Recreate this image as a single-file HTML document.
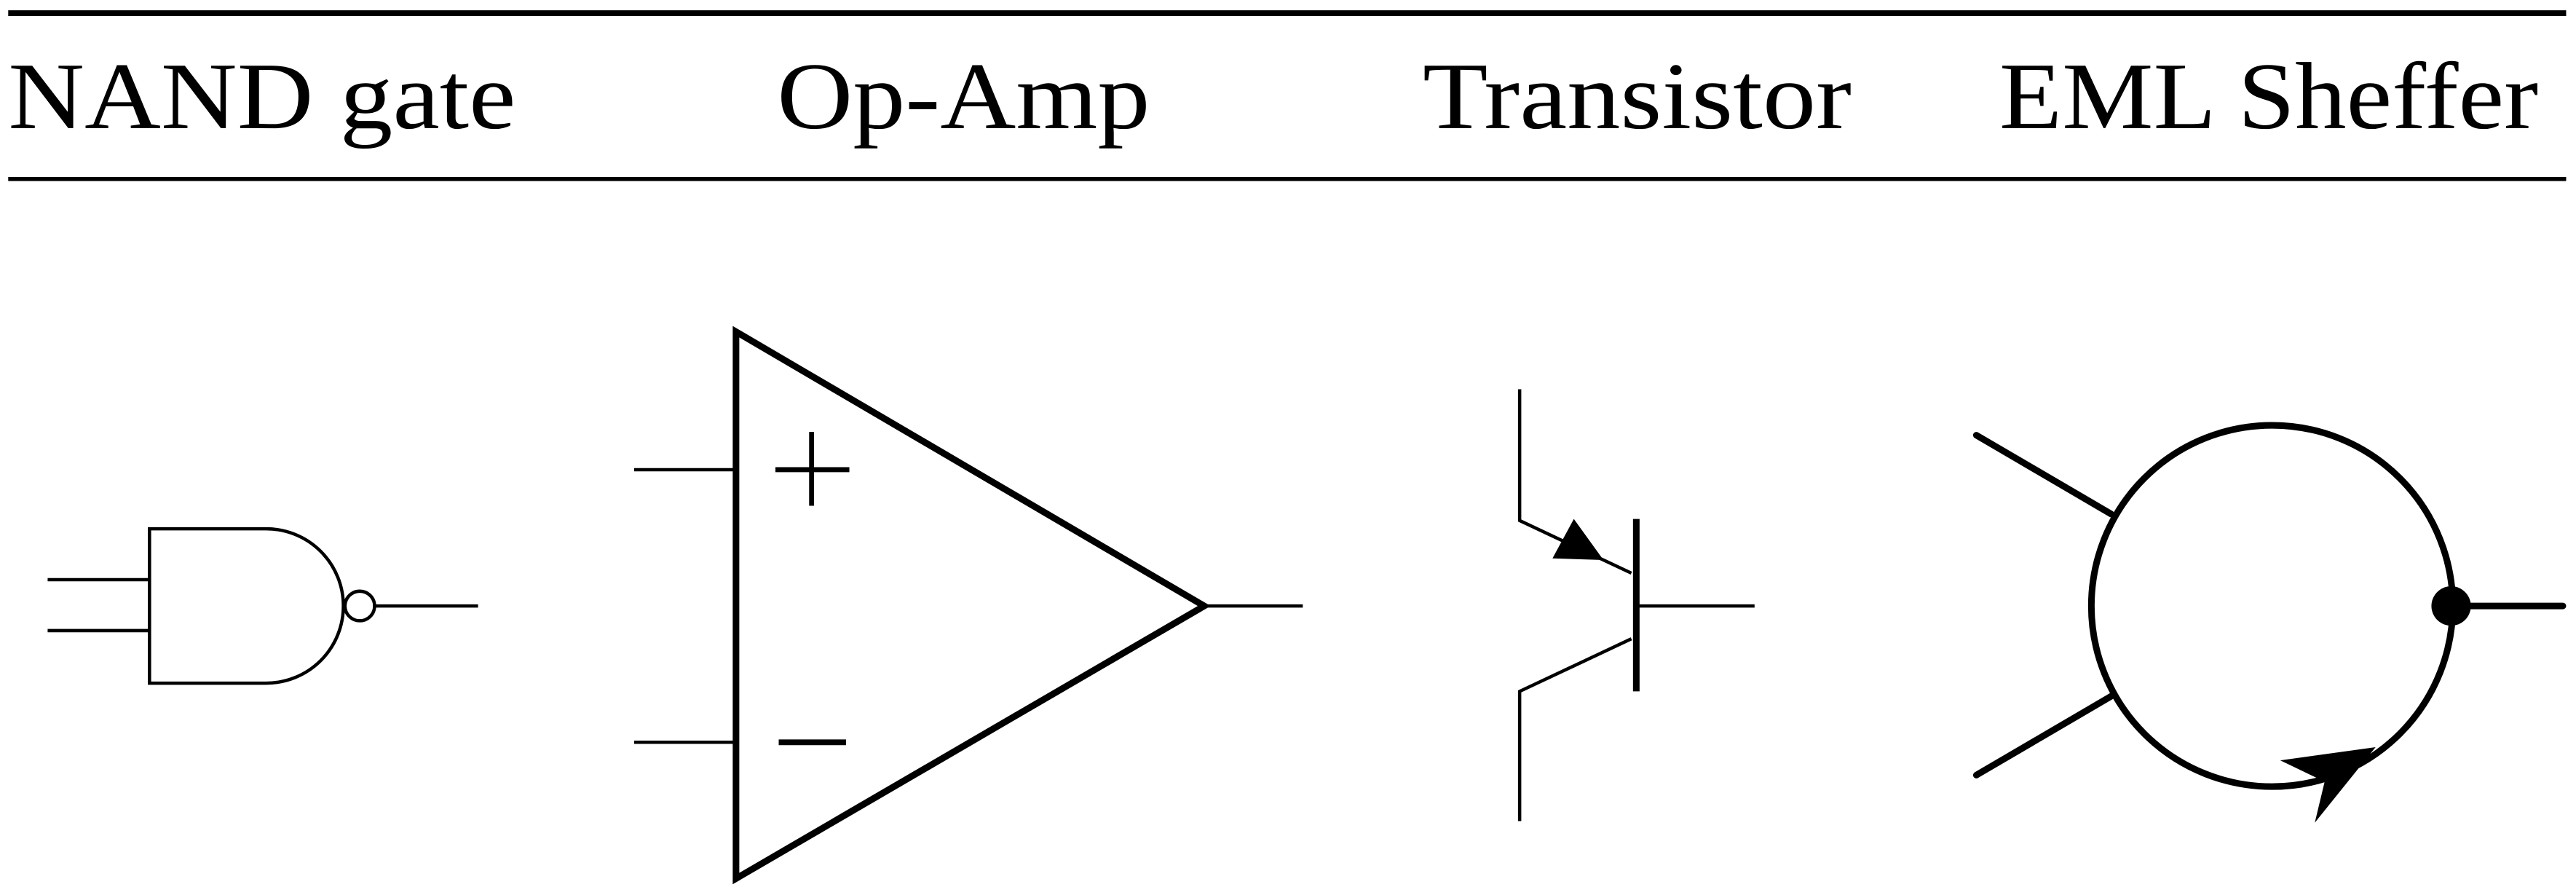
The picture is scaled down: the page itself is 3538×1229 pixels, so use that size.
<!DOCTYPE html>
<html><head><meta charset="utf-8"><style>
html,body{margin:0;padding:0;background:#fff;}
svg{display:block;}
text{font-family:"Liberation Serif",serif;font-size:58px;fill:#000;}
</style></head><body>
<svg width="3538" height="1229" viewBox="0 0 1568 545" preserveAspectRatio="none" xmlns="http://www.w3.org/2000/svg">
<line x1="5" y1="8" x2="1562" y2="8" stroke="#000" stroke-width="3.5"/>
<line x1="5" y1="109" x2="1562" y2="109" stroke="#000" stroke-width="2.5"/>
<text x="5" y="78" textLength="309" lengthAdjust="spacingAndGlyphs">NAND gate</text>
<text x="473" y="78" textLength="227" lengthAdjust="spacingAndGlyphs">Op-Amp</text>
<text x="866" y="78" textLength="261" lengthAdjust="spacingAndGlyphs">Transistor</text>
<text x="1217" y="78" textLength="328" lengthAdjust="spacingAndGlyphs">EML Sheffer</text>
<g fill="none" stroke="#000" stroke-width="2">
<line x1="29" y1="353" x2="91" y2="353"/>
<line x1="29" y1="384" x2="91" y2="384"/>
<path d="M91,322 H162 A47,47 0 0 1 162,416 H91 Z"/>
<circle cx="219" cy="369" r="9"/>
<line x1="228" y1="369" x2="291" y2="369"/>
</g>
<g fill="none" stroke="#000">
<path d="M448,202 L448,535 L733,369 Z" stroke-width="4" stroke-linejoin="miter"/>
<line x1="386" y1="286" x2="448" y2="286" stroke-width="2"/>
<line x1="386" y1="452" x2="448" y2="452" stroke-width="2"/>
<line x1="733" y1="369" x2="793" y2="369" stroke-width="2"/>
<line x1="472" y1="286" x2="517" y2="286" stroke-width="3"/>
<line x1="494" y1="263" x2="494" y2="308" stroke-width="3"/>
<line x1="474" y1="452" x2="515" y2="452" stroke-width="3.5"/>
</g>
<g fill="none" stroke="#000" stroke-width="2">
<polyline points="925,237 925,317 993,349"/>
<polyline points="993,389 925,421 925,500"/>
<line x1="996" y1="369" x2="1068" y2="369"/>
<line x1="996" y1="316" x2="996" y2="421" stroke-width="4"/>
</g>
<polygon points="945,340 976,341 958,316" fill="#000"/>
<g fill="none" stroke="#000" stroke-width="4" stroke-linecap="round">
<circle cx="1383" cy="369" r="110"/>
<line x1="1203" y1="265" x2="1285" y2="313"/>
<line x1="1203" y1="472" x2="1285" y2="424"/>
<line x1="1492" y1="369" x2="1560" y2="369"/>
</g>
<circle cx="1492" cy="369" r="12" fill="#000"/>
<polygon points="1388,463 1446,455 1409,501 1415,476" fill="#000"/>
</svg>
</body></html>
